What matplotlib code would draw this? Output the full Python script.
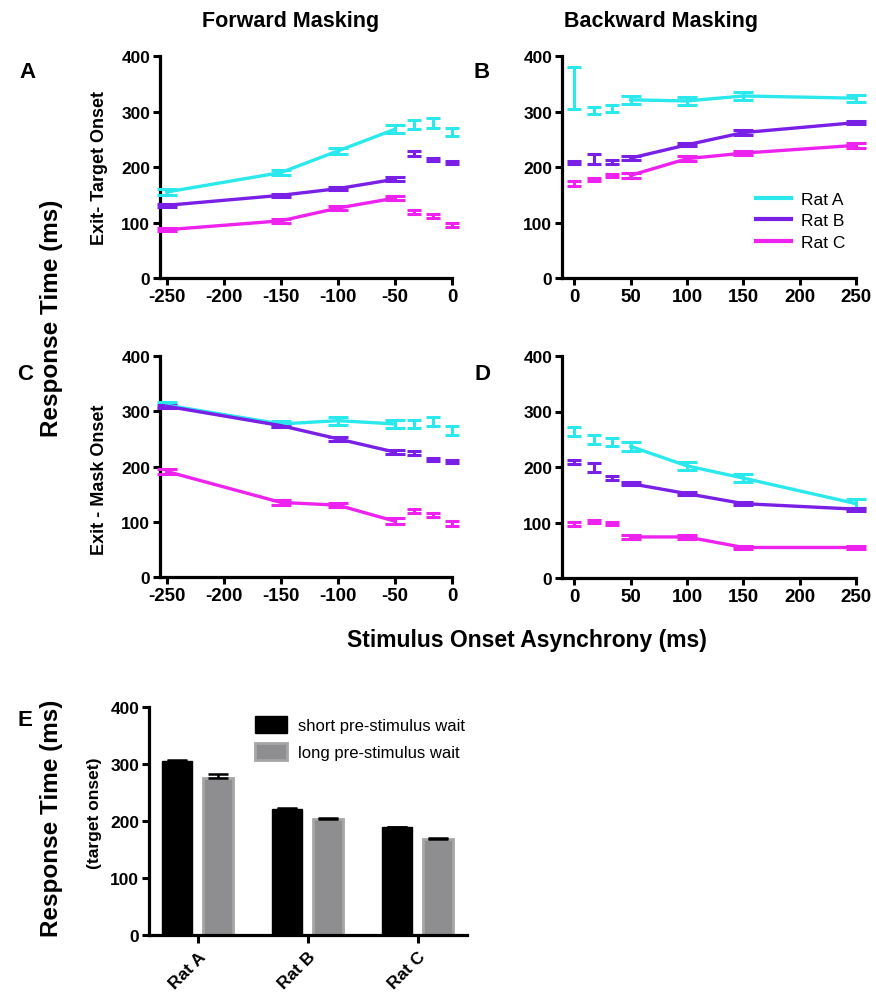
import matplotlib
matplotlib.use("Agg")
import matplotlib.pyplot as plt
from matplotlib.patches import Patch
from matplotlib.lines import Line2D

plt.rcParams['font.family'] = ['Liberation Sans', 'DejaVu Sans']
plt.rcParams['axes.unicode_minus'] = False

# ---------------- data ----------------
rats = ["Rat A", "Rat B", "Rat C"]
colors = ["#2AE8EC", "#7A1FE6", "#EE22EE"]

soa_fwd_line = [-250, -150, -100, -50]
soa_fwd_extra = [-33, -17, 0]
soa_bwd_extra = [0, 17, 33]
soa_bwd_line = [50, 100, 150, 250]

# Panel A: forward masking, exit - target onset
A_line = [[155, 190, 229, 268], [131, 149, 161, 178], [87, 103, 126, 144]]
A_line_err = [[5, 5, 6, 7], [3, 3, 3, 4], [3, 3, 4, 4]]
A_extra = [[276, 280, 263], [224, 213, 208], [119, 112, 96]]
A_extra_err = [[8, 9, 8], [4, 3, 3], [4, 4, 4]]

# Panel B: backward masking, exit - target onset
B_line = [[321, 319, 328, 324], [216, 240, 262, 280], [185, 215, 225, 239]]
B_line_err = [[7, 7, 7, 6], [3, 3, 4, 3], [4, 4, 4, 4]]
B_extra = [[342, 302, 306], [208, 214, 209], [170, 177, 185]]
B_extra_err = [[38, 6, 6], [3, 9, 3], [4, 3, 3]]

# Panel C: forward masking, exit - mask onset
C_line = [[311, 277, 283, 277], [309, 274, 250, 226], [191, 135, 130, 101]]
C_line_err = [[6, 6, 7, 7], [3, 3, 3, 4], [4, 4, 4, 5]]
C_extra = [[277, 281, 265], [224, 213, 209], [119, 112, 97]]
C_extra_err = [[8, 8, 8], [4, 3, 3], [4, 4, 4]]

# Panel D: backward masking, exit - mask onset
D_line = [[237, 202, 180, 134], [170, 152, 134, 124], [74, 74, 55, 55]]
D_line_err = [[8, 7, 7, 8], [3, 3, 3, 3], [4, 3, 3, 3]]
D_extra = [[264, 249, 245], [209, 199, 180], [97, 102, 98]]
D_extra_err = [[8, 8, 8], [3, 8, 3], [4, 3, 3]]

# Panel E
E_short = [306, 221, 189]
E_short_err = [1, 1, 1]
E_long = [276, 203, 168]
E_long_err = [6, 2, 2]
E_legend = ["short pre-stimulus wait", "long pre-stimulus wait"]

fwd_ticks = [-250, -200, -150, -100, -50, 0]
bwd_ticks = [0, 50, 100, 150, 200, 250]
y_ticks = [0, 100, 200, 300, 400]

# ---------------- figure ----------------
W, H = 876, 995
fig = plt.figure(figsize=(W / 100, H / 100), dpi=100)


def add_ax(l, r, t, b):
    return fig.add_axes([l / W, 1 - b / H, (r - l) / W, (b - t) / H])


def style(ax):
    for s in ["top", "right"]:
        ax.spines[s].set_visible(False)
    for s in ["left", "bottom"]:
        ax.spines[s].set_linewidth(2.3)
    ax.tick_params(direction="out", length=5, width=2.2, pad=2)
    ax.tick_params(axis="y", labelsize=12.5)
    ax.tick_params(axis="x", labelsize=13.5)
    for lab in ax.get_xticklabels() + ax.get_yticklabels():
        lab.set_fontweight("bold")


def line_panel(ax, xline, yline, eline, xex, yex, eex, xticks, xlim):
    for i in range(3):
        ax.errorbar(xline, yline[i], yerr=eline[i], color=colors[i], lw=2.4,
                    capsize=7, capthick=2.2, elinewidth=2.2, clip_on=False,
                    zorder=3)
        ax.errorbar(xex, yex[i], yerr=eex[i], color=colors[i], lw=0, ls="none",
                    capsize=5, capthick=2.2, elinewidth=2.2, clip_on=False,
                    zorder=3)
    ax.set_xlim(*xlim)
    ax.set_ylim(0, 400)
    ax.set_xticks(xticks)
    ax.set_yticks(y_ticks)
    style(ax)


axA = add_ax(160, 452, 57, 279)
line_panel(axA, soa_fwd_line, A_line, A_line_err, soa_fwd_extra, A_extra,
           A_extra_err, fwd_ticks, (-256, 0))
axB = add_ax(562, 856, 57, 279)
line_panel(axB, soa_bwd_line, B_line, B_line_err, soa_bwd_extra, B_extra,
           B_extra_err, bwd_ticks, (-11, 250))
axC = add_ax(160, 452, 357, 578)
line_panel(axC, soa_fwd_line, C_line, C_line_err, soa_fwd_extra, C_extra,
           C_extra_err, fwd_ticks, (-256, 0))
axD = add_ax(562, 856, 357, 579)
line_panel(axD, soa_bwd_line, D_line, D_line_err, soa_bwd_extra, D_extra,
           D_extra_err, bwd_ticks, (-11, 250))

# legend in B
handles = [Line2D([0], [0], color=c, lw=3) for c in colors]
axB.legend(handles, rats, frameon=False, fontsize=12.5, handlelength=2.0,
           handletextpad=0.6, labelspacing=0.35,
           loc="upper left", bbox_to_anchor=(756 / W, 1 - 193 / H),
           bbox_transform=fig.transFigure, borderaxespad=0, borderpad=0)

# Panel E
axE = add_ax(149, 467, 708, 936)
xc = list(range(len(rats)))
bw = 0.273
axE.bar([x - 0.19 for x in xc], E_short, width=bw, color="black",
        edgecolor="black", lw=1, zorder=2)
axE.errorbar([x - 0.19 for x in xc], E_short, yerr=[[0] * 3, E_short_err],
             fmt="none", ecolor="black", capsize=7, capthick=1.8,
             elinewidth=1.8, zorder=3)
axE.bar([x + 0.18 for x in xc], E_long, width=bw, color="#8E8E90",
        edgecolor="#A6A6A6", lw=2, zorder=2)
axE.errorbar([x + 0.18 for x in xc], E_long, yerr=[[0] * 3, E_long_err],
             fmt="none", ecolor="black", capsize=7, capthick=1.8,
             elinewidth=1.8, zorder=3)
axE.set_xlim(-0.445, 2.445)
axE.set_ylim(0, 400)
axE.set_yticks(y_ticks)
axE.set_xticks(xc)
axE.set_xticklabels(rats, rotation=45, ha="right", rotation_mode="anchor")
style(axE)
axE.tick_params(axis="x", labelsize=12.5, length=6, pad=4)
for lab in axE.get_xticklabels():
    lab.set_fontweight("bold")
ehandles = [Patch(facecolor="black", edgecolor="black"),
            Patch(facecolor="#8E8E90", edgecolor="#A6A6A6", lw=2)]
axE.legend(ehandles, E_legend, frameon=False, fontsize=12, handlelength=1.9,
           handleheight=1.2, handletextpad=0.7, labelspacing=0.6,
           loc="upper left", bbox_to_anchor=(255 / W, 1 - 717 / H),
           bbox_transform=fig.transFigure, borderaxespad=0, borderpad=0)

# ---------------- text ----------------
def T(x, y, s, **kw):
    fig.text(x / W, 1 - y / H, s, ha="center", va="center", **kw)

T(291, 21, "Forward Masking", fontsize=15.5, fontweight="bold")
T(661, 21, "Backward Masking", fontsize=15.5, fontweight="bold")
T(28, 73, "A", fontsize=16, fontweight="bold")
T(482, 73, "B", fontsize=16, fontweight="bold")
T(25, 375, "C", fontsize=16, fontweight="bold")
T(482, 375, "D", fontsize=16, fontweight="bold")
T(25, 720, "E", fontsize=16, fontweight="bold")
T(52, 318, "Response Time (ms)", fontsize=17.5, fontweight="bold", rotation=90)
T(100, 168, "Exit- Target Onset", fontsize=13, fontweight="bold", rotation=90)
T(100, 480, "Exit - Mask Onset", fontsize=13, fontweight="bold", rotation=90)
T(527, 641, "Stimulus Onset Asynchrony (ms)", fontsize=16.5, fontweight="bold")
T(52, 818, "Response Time (ms)", fontsize=17.5, fontweight="bold", rotation=90)
T(95, 813, "(target onset)", fontsize=12.5, fontweight="bold", rotation=90)

fig.savefig("out.png", dpi=100)
